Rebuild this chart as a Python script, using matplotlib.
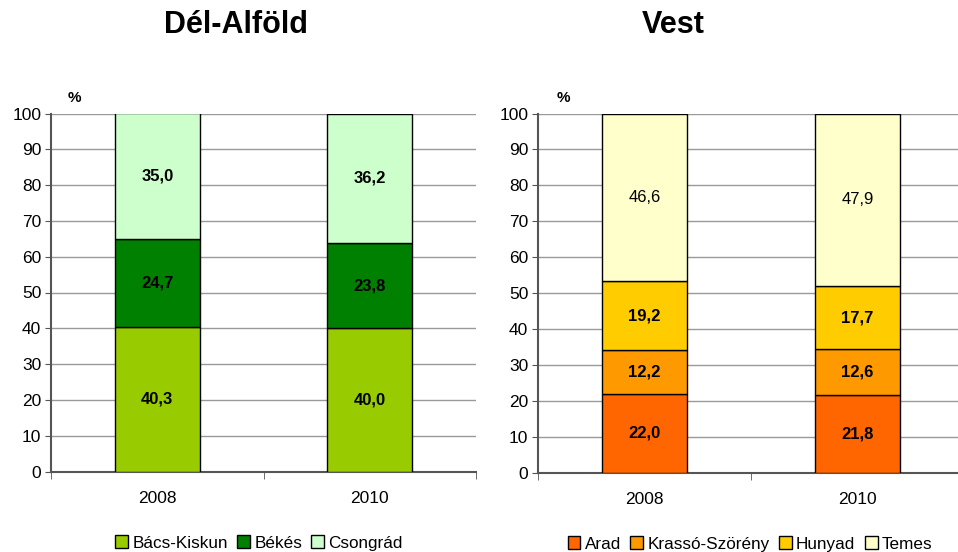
import matplotlib.pyplot as plt
import numpy as np

plt.rcParams['font.family'] = ['Liberation Sans', 'DejaVu Sans']

years = ['2008', '2010']

# Dél-Alföld counties, share in percent
dal_names = ['Bács-Kiskun', 'Békés', 'Csongrád']
dal_values = [[40.3, 40.0], [24.7, 23.8], [35.0, 36.2]]
dal_colors = ['#99CC00', '#008000', '#CCFFCC']
dal_bold = [True, True, True]

# Vest counties, share in percent
vest_names = ['Arad', 'Krassó-Szörény', 'Hunyad', 'Temes']
vest_values = [[22.0, 21.8], [12.2, 12.6], [19.2, 17.7], [46.6, 47.9]]
vest_colors = ['#FF6600', '#FF9900', '#FFCC00', '#FFFFCC']
vest_bold = [True, True, True, False]

W, H = 958, 552
fig = plt.figure(figsize=(W / 100, H / 100), dpi=100)


def px_axes(x0, x1, ytop, ybot):
    return fig.add_axes([x0 / W, 1 - ybot / H, (x1 - x0) / W, (ybot - ytop) / H])


def stacked(ax, names, values, colors, bold, title, title_x, leg_x, leg_y):
    x = np.arange(len(years))
    bottom = np.zeros(len(years))
    handles = []
    for name, vals, col, b in zip(names, values, colors, bold):
        vals = np.array(vals)
        bars = ax.bar(x, vals, 0.4, bottom=bottom, color=col, edgecolor='black',
                      linewidth=1, label=name, zorder=3)
        handles.append(bars)
        for xi, v, bt in zip(x, vals, bottom):
            ax.text(xi, bt + v / 2, f'{v:.1f}'.replace('.', ','), ha='center', va='center',
                    fontsize=12, fontweight='bold' if b else 'normal', zorder=4)
        bottom += vals

    ax.set_xlim(-0.5, 1.5)
    ax.set_ylim(0, 100)
    ax.set_yticks(range(0, 101, 10))
    ax.yaxis.grid(True, color='#999999', linewidth=1, zorder=0)
    ax.set_axisbelow(True)
    ax.tick_params(axis='y', labelsize=12.5, length=4, color='#555555', pad=3)
    ax.set_xticks(x)
    ax.set_xticklabels(years)
    ax.set_xticks([-0.5, 0.5, 1.5], minor=True)
    ax.tick_params(axis='x', which='major', length=0, labelsize=12.5, pad=14)
    ax.tick_params(axis='x', which='minor', length=5, color='#555555')
    for s in ['top', 'right']:
        ax.spines[s].set_visible(False)
    for s in ['left', 'bottom']:
        ax.spines[s].set_color('#555555')
        ax.spines[s].set_linewidth(1.5)

    fig.text(title_x / W, 1 - 25 / H, title, ha='center', va='center',
             fontsize=22, fontweight='bold')
    fig.legend(handles=handles, loc='center', bbox_to_anchor=(leg_x / W, 1 - leg_y / H),
               ncol=len(names), frameon=False, fontsize=12.3, handlelength=0.75,
               handleheight=0.75, handletextpad=0.25, columnspacing=0.55, borderpad=0)


ax1 = px_axes(51, 476, 113.5, 471.5)
stacked(ax1, dal_names, dal_values, dal_colors, dal_bold, 'Dél-Alföld', 236, 259, 543)
fig.text(74 / W, 1 - 98 / H, '%', ha='center', va='center', fontsize=11, fontweight='bold')

ax2 = px_axes(538, 964, 113.5, 473)
stacked(ax2, vest_names, vest_values, vest_colors, vest_bold, 'Vest', 673, 750, 544)
fig.text(563 / W, 1 - 98 / H, '%', ha='center', va='center', fontsize=11, fontweight='bold')

fig.savefig('out.png', dpi=100)
